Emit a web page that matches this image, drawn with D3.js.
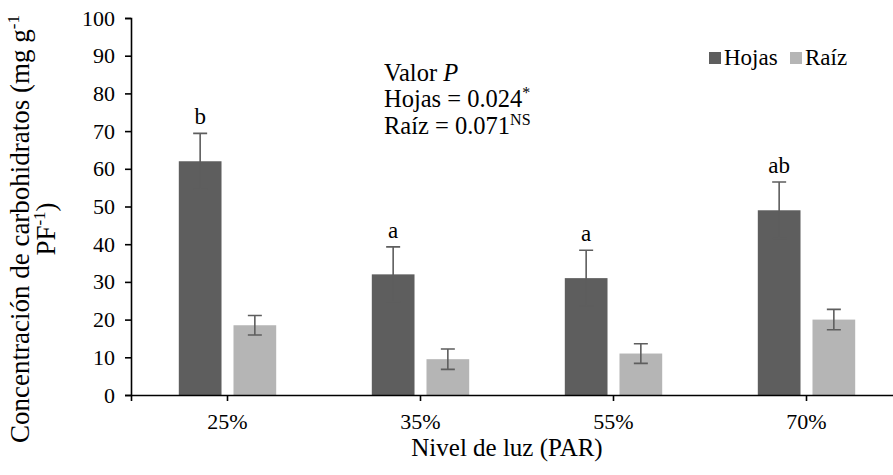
<!DOCTYPE html>
<html>
<head>
<meta charset="utf-8">
<script src="https://cdn.jsdelivr.net/npm/d3@7"></script>
<style>
  body { margin: 0; background: #fff; }
  svg { display: block; }
  svg text { font-family: "Liberation Serif", "Times New Roman", serif; }
</style>
</head>
<body>
<div id="chart"></div>
<script>
// Chart data
const categories = ['25%', '35%', '55%', '70%'];
const series = ['Hojas', 'Raíz'];
const hojasValues = [62, 32, 31, 49];
const hojasErrors = [7.4, 7.3, 7.4, 7.5];
const raizValues = [18.5, 9.5, 11, 20];
const raizErrors = [2.6, 2.7, 2.6, 2.7];
const letters = ['b', 'a', 'a', 'ab'];
const yTicks = [0, 10, 20, 30, 40, 50, 60, 70, 80, 90, 100];

const width = 893, height = 475;
const colors = { 'Hojas': '#5e5e5e', 'Raíz': '#b5b5b5' };

const svg = d3.select('#chart').append('svg')
    .attr('width', width)
    .attr('height', height);

// Scales
const x = d3.scaleBand().domain(categories).range([131, 903]);
const x1 = d3.scaleBand().domain(series).range([-48.7, 48.7]).paddingInner(0.219);
const y = d3.scaleLinear().domain([0, 100]).range([395, 18]);

// Build rows from the arrays
const rows = categories.map((c, i) => ({
    cat: c,
    letter: letters[i],
    bars: [
        { s: 'Hojas', v: hojasValues[i], e: hojasErrors[i] },
        { s: 'Raíz', v: raizValues[i], e: raizErrors[i] }
    ]
}));

// Bars
const groups = svg.selectAll('.group')
    .data(rows)
    .enter()
    .append('g')
    .attr('transform', d => `translate(${x(d.cat) + x.bandwidth() / 2},0)`);

groups.selectAll('rect')
    .data(d => d.bars)
    .enter()
    .append('rect')
    .attr('x', d => x1(d.s))
    .attr('width', x1.bandwidth())
    .attr('y', d => y(d.v))
    .attr('height', d => y(0) - y(d.v))
    .attr('fill', d => colors[d.s]);

// Error bars
const cap = 7;
groups.selectAll('.err')
    .data(d => d.bars)
    .enter()
    .append('path')
    .attr('class', 'err')
    .attr('fill', 'none')
    .attr('stroke', '#5e5e5e')
    .attr('stroke-width', 1.6)
    .attr('d', d => {
        const cx = x1(d.s) + x1.bandwidth() / 2;
        const t = y(d.v + d.e), b = y(d.v - d.e);
        return `M${cx - cap},${t}H${cx + cap}M${cx},${t}V${b}M${cx - cap},${b}H${cx + cap}`;
    });

// Significance letters
groups.append('text')
    .attr('x', x1('Hojas') + x1.bandwidth() / 2)
    .attr('y', d => y(d.bars[0].v + d.bars[0].e) - 9)
    .attr('text-anchor', 'middle')
    .attr('font-size', '23px')
    .attr('fill', '#000')
    .text(d => d.letter);

// Axes
const xAxis = svg.append('g')
    .attr('transform', `translate(0,${y(0)})`)
    .call(d3.axisBottom(x).tickSizeOuter(0).tickSize(6).tickPadding(12));
const yAxis = svg.append('g')
    .attr('transform', 'translate(131,0)')
    .call(d3.axisLeft(y).tickValues(yTicks).tickSizeOuter(0).tickSize(6).tickPadding(10));

[xAxis, yAxis].forEach(a => {
    a.attr('font-family', null);
    a.select('.domain').attr('stroke', '#000').attr('stroke-width', 1.6);
    a.selectAll('.tick line').attr('stroke', '#000').attr('stroke-width', 1.6);
    a.selectAll('.tick text')
        .attr('font-size', '22px')
        .attr('fill', '#000');
});

// Axis titles
svg.append('text')
    .attr('x', 507)
    .attr('y', 456)
    .attr('text-anchor', 'middle')
    .attr('font-size', '25px')
    .text('Nivel de luz (PAR)');

const yTitle = svg.append('text')
    .attr('transform', 'translate(29,229) rotate(-90)')
    .attr('text-anchor', 'middle')
    .attr('font-size', '27px');
const l1 = yTitle.append('tspan').attr('x', 0).attr('y', 0);
l1.append('tspan').text('Concentración de carbohidratos (mg g');
l1.append('tspan').attr('dy', -10).attr('font-size', '17px').text('-1');
const l2 = yTitle.append('tspan').attr('x', 0).attr('y', 26);
l2.append('tspan').text('PF');
l2.append('tspan').attr('dy', -10).attr('font-size', '17px').text('-1');
l2.append('tspan').attr('dy', 10).text(')');

// P-value annotation
const ann = svg.append('text').attr('font-size', '24.5px').attr('fill', '#000');
const a1 = ann.append('tspan').attr('x', 384).attr('y', 81);
a1.append('tspan').text('Valor ');
a1.append('tspan').attr('font-style', 'italic').text('P');
const a2 = ann.append('tspan').attr('x', 384).attr('y', 107);
a2.append('tspan').text('Hojas = 0.024');
a2.append('tspan').attr('dy', -9).attr('font-size', '16px').text('*');
const a3 = ann.append('tspan').attr('x', 384).attr('y', 134);
a3.append('tspan').text('Raíz = 0.071');
a3.append('tspan').attr('dy', -9).attr('font-size', '16px').text('NS');

// Legend
const legendX = [709, 790];
const legend = svg.selectAll('.legend')
    .data(series)
    .enter()
    .append('g')
    .attr('transform', (d, i) => `translate(${legendX[i]},52)`);
legend.append('rect')
    .attr('width', 12)
    .attr('height', 12)
    .attr('fill', d => colors[d]);
legend.append('text')
    .attr('x', 15)
    .attr('y', 13)
    .attr('font-size', '23px')
    .text(d => d);
</script>
</body>
</html>
